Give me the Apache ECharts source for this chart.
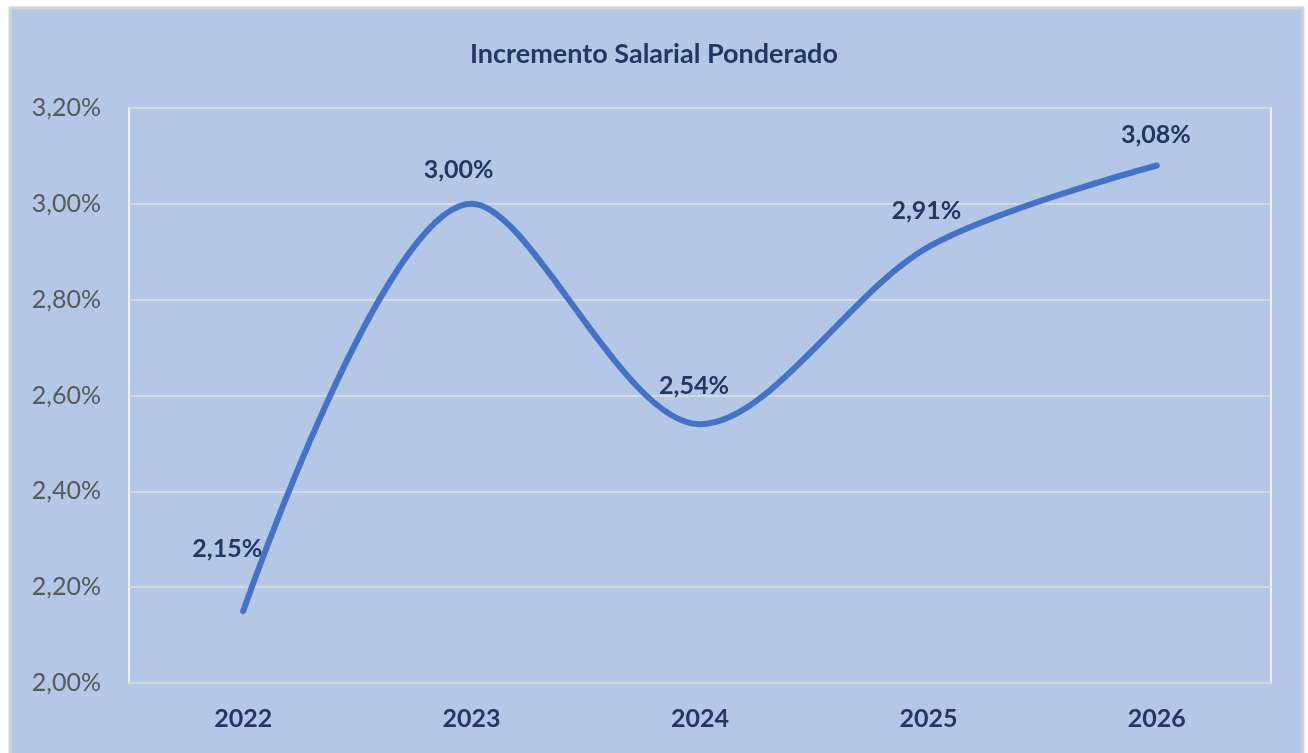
<!DOCTYPE html>
<html>
<head>
<meta charset="utf-8">
<script src="https://cdn.jsdelivr.net/npm/echarts@6/dist/echarts.min.js"></script>
<style>
    html, body { margin: 0; padding: 0; background: #fff; }
    #chart { width: 1308px; height: 753px; }
</style>
</head>
<body>
<div id="chart"></div>
<script>
// datos del gráfico
var years = ['2022', '2023', '2024', '2025', '2026'];
var increments = [2.15, 3.00, 2.54, 2.91, 3.08];
var yTicks = [2.00, 3.20, 0.20]; // min, max, intervalo

// desplazamiento de cada etiqueta respecto al punto
var labelShift = [[-16, -44], [-13, -16], [-6, -20], [-2, -18], [-1, -13]];

function pct(v) {
    return v.toFixed(2).replace('.', ',') + '%';
}

var points = [];
for (var i = 0; i < increments.length; i++) {
    points.push({
        value: increments[i],
        label: { offset: labelShift[i] }
    });
}

var font = 'Lato, "Open Sans", sans-serif';

echarts.init(document.getElementById('chart')).setOption({
    backgroundColor: '#ffffff',
    animation: false,
    graphic: [{
        type: 'rect',
        z: -10,
        shape: { x: 10, y: 8, width: 1293, height: 770 },
        style: { fill: '#b4c7e7', stroke: '#d4d4d4', lineWidth: 3 }
    }],
    title: {
        text: 'Incremento Salarial Ponderado',
        left: 'center',
        top: 36,
        textStyle: { fontFamily: font, fontSize: 27, fontWeight: 'bold', color: '#203864' }
    },
    grid: {
        left: 129, right: 37, top: 108, bottom: 70,
        show: true,
        borderColor: '#eef2fa',
        borderWidth: 2
    },
    xAxis: {
        type: 'category',
        data: years,
        axisTick: { show: false },
        axisLine: { lineStyle: { color: '#d9d9d9', width: 2 } },
        axisLabel: {
            margin: 23,
            fontFamily: font, fontSize: 25, fontWeight: 'bold', color: '#203864'
        }
    },
    yAxis: {
        type: 'value',
        min: yTicks[0],
        max: yTicks[1],
        interval: yTicks[2],
        axisLine: { show: false },
        axisTick: { show: false },
        splitLine: { lineStyle: { color: '#d9d9d9', width: 2 } },
        axisLabel: {
            margin: 28,
            fontFamily: font, fontSize: 25, color: '#595959',
            formatter: function (v) { return pct(v); }
        }
    },
    series: [{
        type: 'line',
        data: points,
        smooth: 0.32,
        symbol: 'circle',
        symbolSize: 1,
        itemStyle: { color: '#4472c4' },
        lineStyle: { color: '#4472c4', width: 6, cap: 'round' },
        label: {
            show: true,
            position: 'top',
            distance: 5,
            fontFamily: font, fontSize: 25, fontWeight: 'bold', color: '#203864',
            formatter: function (p) { return pct(p.value); }
        }
    }]
});
</script>
</body>
</html>
